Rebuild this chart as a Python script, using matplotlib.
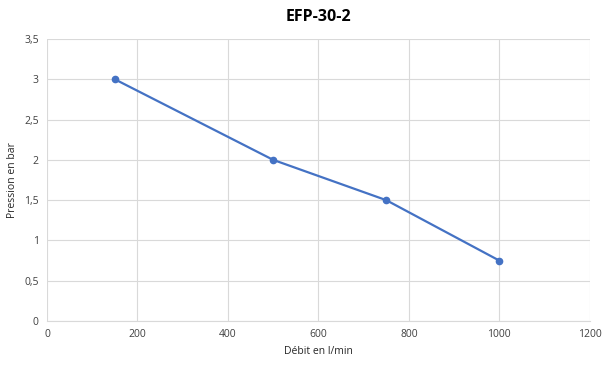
import matplotlib
matplotlib.use("Agg")
import matplotlib.pyplot as plt
import matplotlib.ticker as ticker

debit = [150, 500, 750, 1000]
pression = [3, 2, 1.5, 0.75]
x_ticks = [0, 200, 400, 600, 800, 1000, 1200]
y_ticks = [0, 0.5, 1, 1.5, 2, 2.5, 3, 3.5]

plt.rcParams['font.family'] = ['Open Sans', 'DejaVu Sans']

fig = plt.figure(figsize=(6.08, 3.70), dpi=100)
ax = fig.add_axes([0.0773, 0.1324, 0.8927, 0.7622])

ax.plot(debit, pression, color='#4472C4', linewidth=1.6, marker='o', markersize=4.5)

ax.set_xlim(0, 1200)
ax.set_ylim(0, 3.5)
ax.set_xticks(x_ticks)
ax.set_yticks(y_ticks)
ax.yaxis.set_major_formatter(ticker.FuncFormatter(lambda v, p: ('%g' % v).replace('.', ',')))
ax.grid(True, color='#D9D9D9', linewidth=0.8)
ax.set_axisbelow(True)
for s in ['top', 'right', 'left']:
    ax.spines[s].set_visible(False)
ax.spines['bottom'].set_color('#D9D9D9')
ax.tick_params(length=0, labelsize=7.5, labelcolor='#404040', pad=6)

ax.set_title("EFP-30-2", fontsize=11.5, fontweight='bold', pad=13)
ax.set_xlabel("Débit en l/min", fontsize=7.5, color='#262626')
ax.set_ylabel("Pression en bar", fontsize=7.5, color='#262626')

fig.savefig("out.png", dpi=100)
